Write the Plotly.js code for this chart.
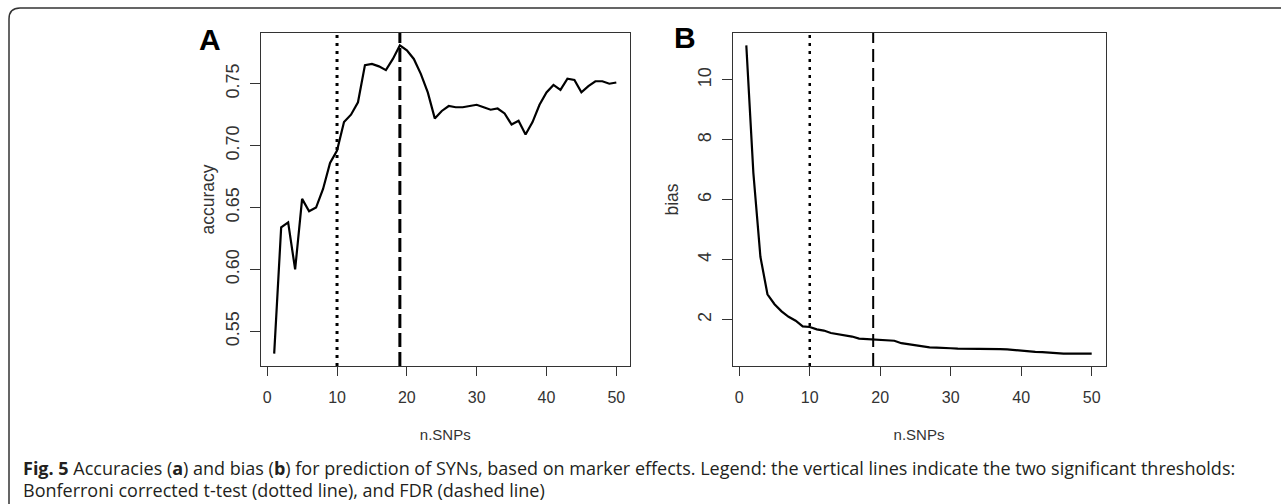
<!DOCTYPE html>
<html>
<head>
<meta charset="utf-8">
<script src="https://cdn.plot.ly/plotly-3.0.1.min.js"></script>
<style>
  html, body { margin: 0; padding: 0; background: #fff; }
  #chart { width: 1281px; height: 504px; }
</style>
</head>
<body>
<div id="chart"></div>
<script>
// ---- data ----
const nSNPs = [1,2,3,4,5,6,7,8,9,10,11,12,13,14,15,16,17,18,19,20,21,22,23,24,25,26,27,28,29,30,31,32,33,34,35,36,37,38,39,40,41,42,43,44,45,46,47,48,49,50];
const accuracy = [0.532,0.634,0.638,0.600,0.657,0.647,0.650,0.665,0.686,0.696,
                  0.719,0.725,0.735,0.765,0.766,0.764,0.761,0.770,0.781,0.777,
                  0.770,0.758,0.743,0.722,0.728,0.732,0.731,0.731,0.732,0.733,
                  0.731,0.729,0.730,0.726,0.717,0.720,0.709,0.719,0.733,0.743,
                  0.749,0.745,0.754,0.753,0.743,0.748,0.752,0.752,0.750,0.751];
const bias = [11.15,6.9,4.1,2.85,2.52,2.28,2.1,1.97,1.78,1.76,
              1.68,1.64,1.56,1.52,1.48,1.44,1.37,1.36,1.33,1.32,
              1.32,1.30,1.22,1.18,1.15,1.11,1.08,1.07,1.07,1.05,
              1.04,1.04,1.03,1.03,1.02,1.02,1.02,1.01,0.99,0.95,
              0.94,0.93,0.92,0.90,0.87,0.87,0.87,0.87,0.87,0.87];
const bonferroniThreshold = 10;   // dotted line
const fdrThreshold = 19;          // dashed line
const xTicks = [0,10,20,30,40,50];
const accTicks = [0.55,0.60,0.65,0.70,0.75];
const accTickText = ["0.55","0.60","0.65","0.70","0.75"];
const biasTicks = [2,4,6,8,10];
const captionLine1 = "<b>Fig. 5</b> Accuracies (<b>a</b>) and bias (<b>b</b>) for prediction of SYNs, based on marker effects. Legend: the vertical lines indicate the two significant thresholds:";
const captionLine2 = "Bonferroni corrected t-test (dotted line), and FDR (dashed line)";

// ---- helpers ----
const W = 1281, H = 504;
const px = v => v / W;
const py = v => 1 - v / H;

function pad(arr) {
  const lo = Math.min(...arr), hi = Math.max(...arr);
  const d = (hi - lo) * 0.04;
  return [lo - d, hi + d];
}

const FAM = "Liberation Sans, Arial, sans-serif";

function xaxisDef(domain, anchor) {
  return {
    domain: domain, anchor: anchor,
    range: pad(nSNPs),
    tickvals: xTicks,
    ticks: "outside", ticklen: 9, tickwidth: 1, tickcolor: "#333",
    ticklabelstandoff: 8,
    showline: true, mirror: true, linecolor: "#333", linewidth: 1,
    showgrid: false, zeroline: false,
    tickfont: {family: FAM, size: 16, color: "#333"},
    title: {text: "n.SNPs", font: {family: FAM, size: 15, color: "#333"}, standoff: 24}
  };
}
function yaxisDef(anchor, rng, tv, tt, title, titleStandoff) {
  const o = {
    domain: [py(366), py(33)], anchor: anchor,
    range: rng,
    tickvals: tv,
    ticks: "outside", ticklen: 10, tickwidth: 1, tickcolor: "#333",
    ticklabelstandoff: 3,
    showline: true, mirror: true, linecolor: "#333", linewidth: 1,
    showgrid: false, zeroline: false,
    tickangle: -90,
    tickfont: {family: FAM, size: 18, color: "#333"},
    title: {text: title, font: {family: FAM, size: 17.5, color: "#333"}, standoff: titleStandoff}
  };
  if (tt) o.ticktext = tt;
  return o;
}

const traces = [
  {x: nSNPs, y: accuracy, xaxis: "x", yaxis: "y", mode: "lines",
   line: {color: "#000", width: 2.2}, hoverinfo: "x+y"},
  {x: nSNPs, y: bias, xaxis: "x2", yaxis: "y2", mode: "lines",
   line: {color: "#000", width: 2.2}, hoverinfo: "x+y"}
];

function vline(xref, yref, xv, dash, w) {
  return {type: "line", xref: xref, yref: yref + " domain", x0: xv, x1: xv, y0: 0, y1: 1,
          line: {color: "#000", width: w, dash: dash}};
}

const shapes = [
  vline("x", "y", bonferroniThreshold, "3px,5px", 3),
  vline("x", "y", fdrThreshold, "14px,5px", 3),
  vline("x2", "y2", bonferroniThreshold, "3px,5px", 2.5),
  vline("x2", "y2", fdrThreshold, "13px,6px", 2),
  // figure frame (top + left with rounded corner)
  {type: "path", xref: "paper", yref: "paper",
   path: `M ${px(9)},${py(504)} L ${px(9)},${py(19)} Q ${px(9)},${py(8)} ${px(20)},${py(8)} L ${px(1281)},${py(8)}`,
   line: {color: "#333", width: 1.5}}
];

const annotations = [
  {xref: "paper", yref: "paper", x: px(210), y: py(40), text: "<b>A</b>", showarrow: false,
   font: {family: FAM, size: 30, color: "#000"}, xanchor: "center", yanchor: "middle"},
  {xref: "paper", yref: "paper", x: px(685), y: py(38), text: "<b>B</b>", showarrow: false,
   font: {family: FAM, size: 30, color: "#000"}, xanchor: "center", yanchor: "middle"},
  {xref: "paper", yref: "paper", x: px(21), y: py(468), text: captionLine1, showarrow: false, align: "left",
   font: {family: "Open Sans, sans-serif", size: 18, color: "#231f20"}, xanchor: "left", yanchor: "middle"},
  {xref: "paper", yref: "paper", x: px(21), y: py(490), text: captionLine2, showarrow: false, align: "left",
   font: {family: "Open Sans, sans-serif", size: 18, color: "#231f20"}, xanchor: "left", yanchor: "middle"}
];

const layout = {
  width: W, height: H,
  margin: {l: 0, r: 0, t: 0, b: 0},
  paper_bgcolor: "#fff", plot_bgcolor: "#fff",
  showlegend: false,
  xaxis: xaxisDef([px(260.5), px(630)], "y"),
  yaxis: yaxisDef("x", pad(accuracy), accTicks, accTickText, "accuracy", 4),
  xaxis2: xaxisDef([px(732.5), px(1105.5)], "y2"),
  yaxis2: yaxisDef("x2", pad(bias), biasTicks, null, "bias", 12),
  shapes: shapes,
  annotations: annotations
};

Plotly.newPlot("chart", traces, layout, {displayModeBar: false, staticPlot: true});
</script>
</body>
</html>
